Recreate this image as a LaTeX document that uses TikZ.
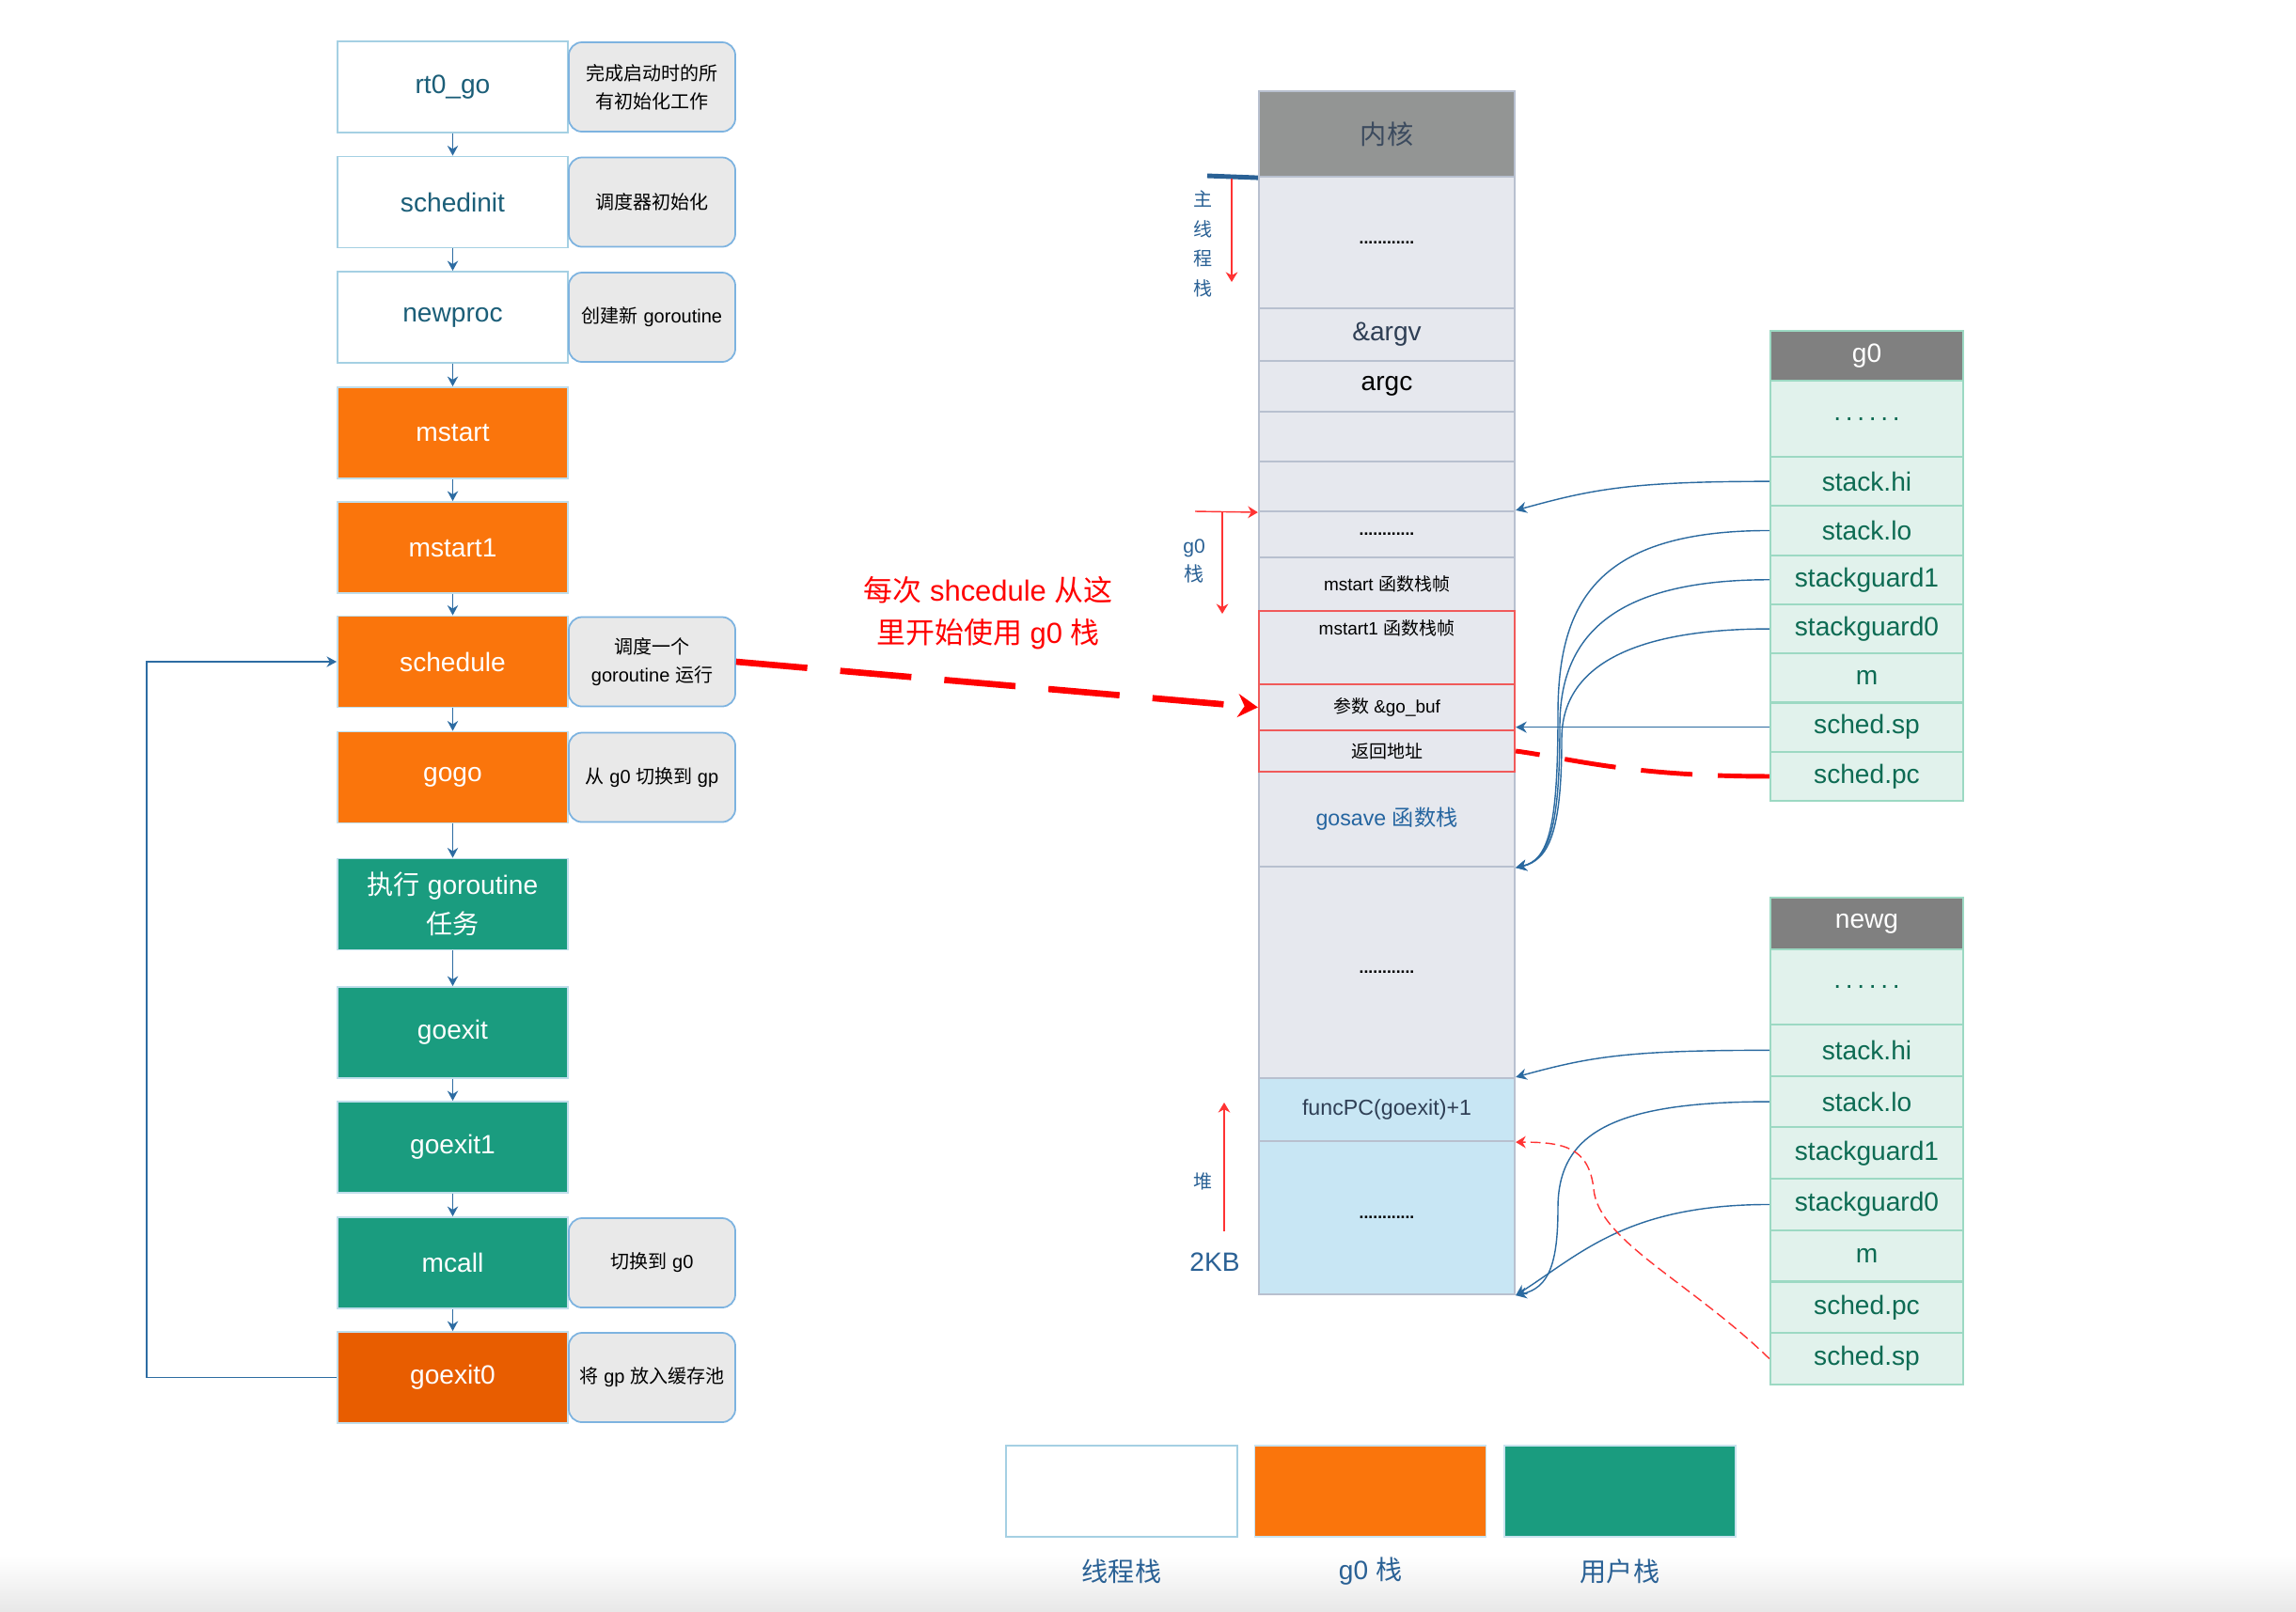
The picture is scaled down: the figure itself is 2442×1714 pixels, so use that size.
\documentclass[tikz,border=0pt]{standalone}
\usepackage{fontspec}
\setmainfont{Liberation Sans}
\newfontfamily\cjk{Noto Sans CJK SC}
\usetikzlibrary{arrows.meta}
\newcommand{\zh}[1]{{\cjk #1}}

\definecolor{tealtxt}{HTML}{1B5E78}
\definecolor{flowblue}{HTML}{2D6CA2}
\definecolor{edgeblue}{HTML}{A5D0E3}
\definecolor{gzero}{HTML}{FA750C}
\definecolor{gzerodark}{HTML}{E85D00}
\definecolor{usergreen}{HTML}{1A9C7F}
\definecolor{notefill}{HTML}{E9E9E9}
\definecolor{noteedge}{HTML}{7DB3E0}
\definecolor{stackfill}{HTML}{E6E8EE}
\definecolor{stackedge}{HTML}{B8C0CF}
\definecolor{kernfill}{HTML}{939594}
\definecolor{kerntxt}{HTML}{3B4A5E}
\definecolor{argtxt}{HTML}{2F3F55}
\definecolor{gosavetxt}{HTML}{2565A0}
\definecolor{heapfill}{HTML}{C8E6F4}
\definecolor{headgray}{HTML}{808080}
\definecolor{fieldfill}{HTML}{E1F2EC}
\definecolor{fieldedge}{HTML}{9CD9C3}
\definecolor{fieldtxt}{HTML}{0D6B53}
\definecolor{labelblue}{HTML}{2A6195}
\definecolor{linkblue}{HTML}{2B6AA0}
\definecolor{redframe}{HTML}{F05A5A}

\begin{document}
\begin{tikzpicture}[x=0.01cm,y=-0.01cm,
    fbig/.style={font=\fontsize{8}{10}\selectfont},
    fmid/.style={font=\fontsize{6.6}{8}\selectfont},
    fsmall/.style={font=\fontsize{5.4}{6.5}\selectfont},
    fdots/.style={font=\fontsize{5}{6}\selectfont\bfseries},
    flowbox/.style={draw, line width=0.5pt, minimum width=2.45cm, minimum height=0.97cm,
        inner sep=0pt, align=center, fbig},
    thread/.style={flowbox, draw=edgeblue, fill=white, text=tealtxt},
    gzbox/.style={flowbox, draw=edgeblue!70, fill=gzero, text=white},
    userbox/.style={flowbox, draw=edgeblue!70, fill=usergreen, text=white},
    notebox/.style={draw=noteedge, line width=0.5pt, fill=notefill, rounded corners=4pt,
        minimum width=1.77cm, minimum height=0.95cm, inner sep=0pt, align=center,
        font=\fontsize{5.7}{8.5}\selectfont},
    flowarrow/.style={draw=flowblue, line width=0.5pt, -{Stealth[length=3pt,width=3.2pt]}},
    stackcell/.style={draw=stackedge, line width=0.6pt, fill=stackfill, minimum width=2.72cm,
        inner sep=0pt, align=center},
    headcell/.style={draw=fieldedge, fill=headgray, text=white, minimum width=2.05cm,
        minimum height=0.53cm, inner sep=0pt, fbig},
    fieldcell/.style={draw=fieldedge, line width=0.6pt, fill=fieldfill, text=fieldtxt,
        minimum width=2.05cm, minimum height=0.523cm, inner sep=0pt, fbig},
    linkarrow/.style={draw=linkblue, line width=0.4pt, -{Stealth[length=3.3pt,width=3.4pt]}},
    redarrow/.style={draw=red!80, line width=0.4pt, -{Stealth[length=3pt,width=3.6pt]}},
    vlabel/.style={text=labelblue, align=center, inner sep=0pt, font=\fontsize{5.7}{9}\selectfont},
    legendbox/.style={line width=0.5pt, minimum width=2.46cm, minimum height=0.97cm, inner sep=0pt},
    legendtxt/.style={text=labelblue, fbig}]
    \useasboundingbox (0,0) rectangle (2442,1714);
    \fill[white] (0,0) rectangle (2442,1714);
    \shade[top color=white, bottom color=black!9] (0,1655) rectangle (2442,1714);

    % call chain
    \node[thread] (rt) at (481.5,92.5) {rt0\_go};
    \node[thread] (si) at (481.5,215) {schedinit};
    \node[thread] (np) at (481.5,337.5) {newproc};
    \node[gzbox] (ms) at (481.5,460.5) {mstart};
    \node[gzbox] (ms1) at (481.5,582.5) {mstart1};
    \node[gzbox] (sch) at (481.5,704) {schedule};
    \node[gzbox] (gogo) at (481.5,827) {gogo};
    \node[userbox, font=\fontsize{8}{12}\selectfont] (run) at (481.5,962) {\zh{执行} goroutine\\\zh{任务}};
    \node[userbox] (gx) at (481.5,1098.5) {goexit};
    \node[userbox] (gx1) at (481.5,1220.5) {goexit1};
    \node[userbox] (mc) at (481.5,1343.5) {mcall};
    \node[gzbox, fill=gzerodark] (gx0) at (481.5,1465.5) {goexit0};

    \node[notebox] (rtn) at (693.5,92.5) {\zh{完成启动时的所}\\\zh{有初始化工作}};
    \node[notebox] (sin) at (693.5,215) {\zh{调度器初始化}};
    \node[notebox] (npn) at (693.5,337.5) {\zh{创建新} goroutine};
    \node[notebox] (schn) at (693.5,704) {\zh{调度一个}\\goroutine \zh{运行}};
    \node[notebox] (gogon) at (693.5,827) {\zh{从} g0 \zh{切换到} gp};
    \node[notebox] (mcn) at (693.5,1343.5) {\zh{切换到} g0};
    \node[notebox] (gx0n) at (693.5,1465.5) {\zh{将} gp \zh{放入缓存池}};

    \foreach \a/\b in {rt/si,si/np,np/ms,ms/ms1,ms1/sch,sch/gogo,gogo/run,run/gx,gx/gx1,gx1/mc,mc/gx0}
      \draw[flowarrow] (\a) -- (\b);
    \draw[flowarrow] (gx0.west) -- ++(-202,0) |- (sch.west);

    % stack
    \node[stackcell, fill=kernfill, minimum height=0.91cm, text=kerntxt, fbig] (sk) at (1475,142.5) {\zh{内核}};
    \node[stackcell, minimum height=1.40cm, fdots] (sd1) at (1475,258) {............};
    \node[stackcell, minimum height=0.56cm, fbig, text=argtxt] (sargv) at (1475,356) {\&argv};
    \node[stackcell, minimum height=0.54cm, fbig] (sargc) at (1475,411) {argc};
    \node[stackcell, minimum height=0.53cm] (se1) at (1475,464.5) {};
    \node[stackcell, minimum height=0.53cm] (se2) at (1475,517.5) {};
    \node[stackcell, minimum height=0.49cm, fdots] (sd2) at (1475,568.5) {............};
    \node[stackcell, minimum height=0.57cm, fsmall] (sms) at (1475,621.5) {mstart \zh{函数栈帧}};
    \node[stackcell, minimum height=1.01cm, fmid, text=gosavetxt] (sgos) at (1475,871.5) {gosave \zh{函数栈}};
    \node[stackcell, minimum height=2.25cm, fdots] (sd3) at (1475,1034.5) {............};
    \node[stackcell, fill=heapfill, minimum height=0.67cm, fmid, text=argtxt] (sfpc) at (1475,1180.5) {funcPC(goexit)+1};
    \node[stackcell, fill=heapfill, minimum height=1.63cm, fdots] (sd4) at (1475,1295.5) {............};
    \node[stackcell, draw=redframe, minimum height=0.78cm] (sms1) at (1475,689) {};
    \node[fsmall, inner sep=0pt] (sms1t) at (1475,668) {mstart1 \zh{函数栈帧}};
    \node[stackcell, draw=redframe, minimum height=0.49cm, fsmall] (sbuf) at (1475,752.5) {\zh{参数} \&go\_buf};
    \node[stackcell, draw=redframe, minimum height=0.44cm, fsmall] (sret) at (1475,799) {\zh{返回地址}};

    % marks left of the stack
    \coordinate (mainbar) at (1284,187);
    \draw[draw=labelblue, line width=1.4pt] (mainbar) -- (sk.south west);
    \coordinate (maina) at (1310,190);
    \coordinate (mainb) at (1310,300);
    \draw[redarrow] (maina) -- (mainb);
    \node[vlabel] (mainlbl) at (1280,259.5) {\zh{主}\\\zh{线}\\\zh{程}\\\zh{栈}};
    \coordinate (g0from) at (1271,544);
    \draw[redarrow] (g0from) -- (se2.south west);
    \coordinate (g0a) at (1300,544);
    \coordinate (g0b) at (1300,653);
    \draw[redarrow] (g0a) -- (g0b);
    \node[vlabel, font=\fontsize{6}{8.5}\selectfont] (g0lbl) at (1270,597) {g0\\\zh{栈}};
    \coordinate (heapa) at (1302,1310);
    \coordinate (heapb) at (1302,1173);
    \draw[redarrow] (heapa) -- (heapb);
    \node[vlabel] (heaplbl) at (1280,1257) {\zh{堆}};
    \node[vlabel, fbig] (kb) at (1292,1343) {2KB};

    \node[text=red, align=center, font=\fontsize{8.8}{12.8}\selectfont] (hint) at (1051,652)
        {\zh{每次} shcedule \zh{从这}\\\zh{里开始使用} g0 \zh{栈}};
    \draw[draw=red, line width=1.9pt, dash pattern=on 21.6pt off 10pt,
        -{Stealth[length=6pt,width=7pt]}] (schn.east) -- (sbuf.west);

    % g structs
    \node[headcell] (g0h) at (1985.5,378.5) {g0};
    \node[fieldcell, minimum height=0.81cm] (gad) at (1985.5,445.5) {.\,.\,.\,.\,.\,.};
    \foreach \t [count=\i] in {stack.hi,stack.lo,stackguard1,stackguard0,m,sched.sp,sched.pc}
      \node[fieldcell] (ga\i) at (1985.5,{486+52.3*(\i-0.5)}) {\t};
    \node[headcell, minimum height=0.55cm] (ngh) at (1985.5,982.5) {newg};
    \node[fieldcell, minimum height=0.80cm] (gbd) at (1985.5,1050) {.\,.\,.\,.\,.\,.};
    \foreach \t [count=\i] in {stack.hi,stack.lo,stackguard1,stackguard0,m,sched.pc,sched.sp}
      \node[fieldcell, minimum height=0.547cm] (gb\i) at (1985.5,{1090+54.7*(\i-0.5)}) {\t};

    \coordinate (gbend1) at (1657,760);
    \coordinate (gbend2) at (1659,772);
    \coordinate (gbend3) at (1661,786);
    \draw[linkarrow] (ga1.west) .. controls +(-150,0) and +(80,-22) .. (sd2.north east);
    \draw[linkarrow] (ga2.west) .. controls +(-183,0) and +(0,-120) .. (gbend1)
        .. controls +(0,120) and +(35,-8) .. (sgos.south east);
    \draw[linkarrow] (ga3.west) .. controls +(-160,0) and +(0,-100) .. (gbend2)
        .. controls +(0,110) and +(35,-8) .. (sgos.south east);
    \draw[linkarrow] (ga4.west) .. controls +(-140,0) and +(0,-80) .. (gbend3)
        .. controls +(0,100) and +(35,-8) .. (sgos.south east);
    \draw[linkarrow] (ga6.west) -- (ga6.west -| sret.east);
    \draw[draw=red, line width=1.4pt, dash pattern=on 15.6pt off 7.7pt]
        (ga7.west) .. controls +(-150,0) and +(60,8) .. (sret.east);

    \coordinate (nbend1) at (1657,1285);
    \coordinate (nbend2) at (1695,1265);
    \draw[linkarrow] (gb1.west) .. controls +(-150,0) and +(80,-22) .. (sfpc.north east);
    \draw[linkarrow] (gb2.west) .. controls +(-165,0) and +(0,-80) .. (nbend1)
        .. controls +(0,60) and +(35,-8) .. (sd4.south east);
    \draw[linkarrow] (gb4.west) .. controls +(-150,0) and +(70,-45) .. (sd4.south east);
    \draw[redarrow, dash pattern=on 3pt off 1.5pt]
        (gb7.west) .. controls +(-83,-81) and +(5,55) .. (nbend2)
        .. controls +(-5,-45) and +(50,0) .. (sfpc.south east);

    % legend
    \node[legendbox, draw=edgeblue, fill=white] (lgt) at (1193,1586.5) {};
    \node[legendbox, draw=edgeblue!60, fill=gzero] (lgo) at (1457.5,1586.5) {};
    \node[legendbox, draw=edgeblue!60, fill=usergreen] (lgu) at (1723,1586.5) {};
    \node[legendtxt] (lgtt) at (1193,1672) {\zh{线程栈}};
    \node[legendtxt] (lgot) at (1457.5,1672) {g0 \zh{栈}};
    \node[legendtxt] (lgut) at (1723,1672) {\zh{用户栈}};
\end{tikzpicture}
\end{document}
